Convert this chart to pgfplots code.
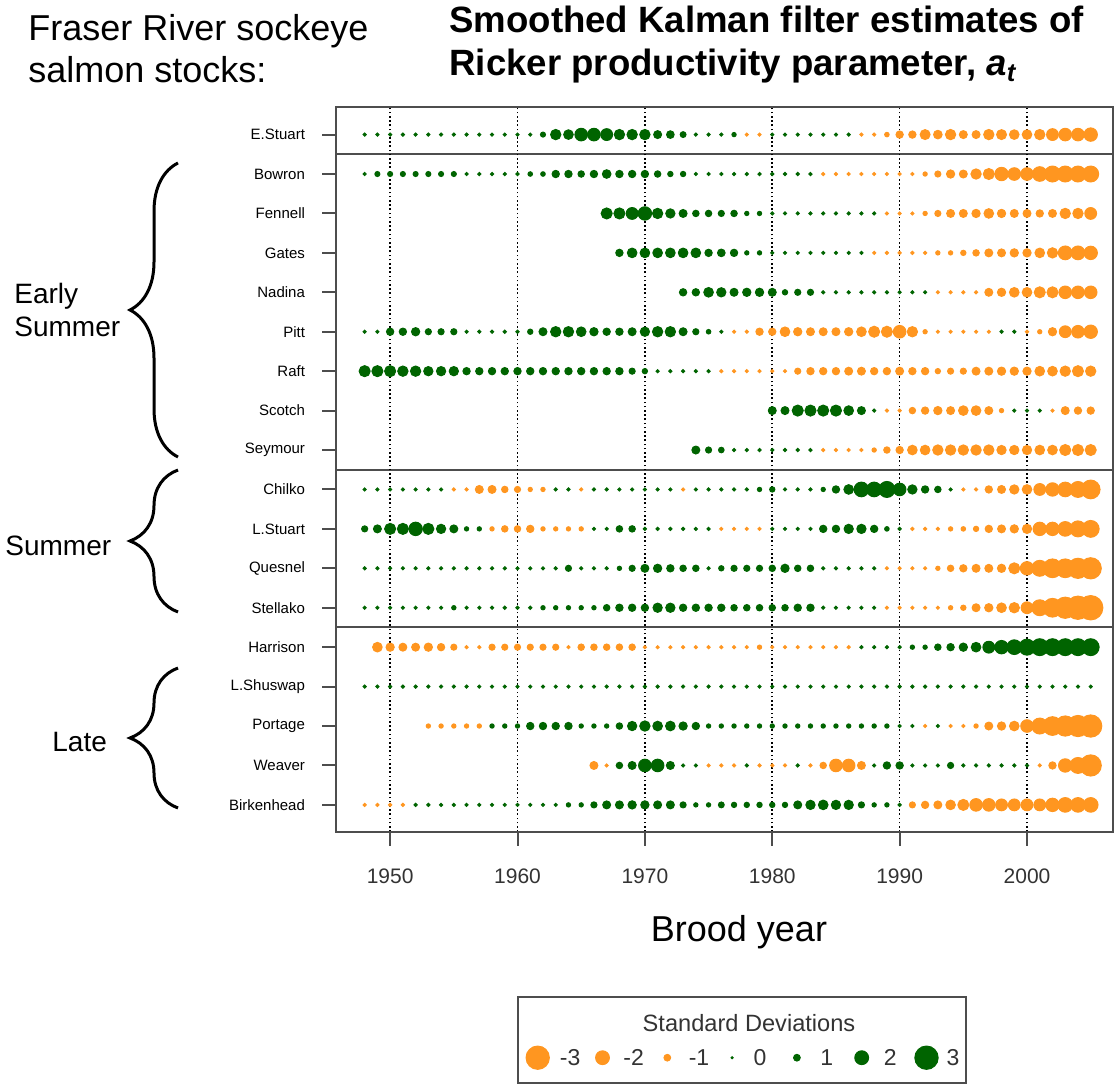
\documentclass[border=0pt]{standalone}
\usepackage{pgfplots}
\pgfplotsset{compat=1.18}
\usepackage{pgfplotstable}
\usepackage{fontspec}
\setmainfont{Liberation Sans}
\usetikzlibrary{decorations.pathreplacing}

\definecolor{sdorange}{HTML}{FF9620}
\definecolor{sdgreen}{HTML}{006400}
\definecolor{framegray}{HTML}{4D4D4D}
\definecolor{ticktext}{HTML}{333333}

% smoothed Kalman filter a_t, in standard deviations (nan = no estimate)
\pgfplotstableread{
year EStuart Bowron Fennell Gates Nadina Pitt Raft Scotch Seymour Chilko LStuart Quesnel Stellako Harrison LShuswap Portage Weaver Birkenhead
1948 0.3 0.3 nan nan nan 0.3 1.65 nan nan 0.3 0.9 0.3 0.3 nan 0.3 nan nan -0.3
1949 0.3 0.7 nan nan nan 0.3 1.65 nan nan 0.3 1.2 0.3 0.3 -1.45 0.3 nan nan -0.3
1950 0.3 0.7 nan nan nan 1.1 1.65 nan nan 0.3 1.65 0.3 0.3 -1.25 0.3 nan nan -0.3
1951 0.3 0.7 nan nan nan 1.1 1.55 nan nan 0.3 1.65 0.3 0.3 -1.2 0.3 nan nan -0.3
1952 0.3 0.7 nan nan nan 1.25 1.55 nan nan 0.3 1.95 0.3 0.3 -1.2 0.3 nan nan 0.3
1953 0.3 0.7 nan nan nan 0.9 1.4 nan nan 0.3 1.65 0.3 0.3 -1.25 0.3 -0.55 nan 0.3
1954 0.3 0.7 nan nan nan 0.9 1.4 nan nan 0.3 1.4 0.3 0.3 -1.1 0.3 -0.55 nan 0.3
1955 0.3 0.7 nan nan nan 0.9 1.4 nan nan -0.3 1.2 0.3 0.55 -0.9 0.3 -0.55 nan 0.3
1956 0.3 0.3 nan nan nan 0.3 1.1 nan nan -0.3 0.55 0.3 0.3 -0.3 0.3 -0.55 nan 0.3
1957 0.3 0.3 nan nan nan 0.3 1.1 nan nan -1.2 0.55 0.3 0.3 -0.3 0.3 -0.55 nan 0.3
1958 0.3 0.3 nan nan nan 0.3 1.1 nan nan -1.2 -0.55 0.3 0.3 -0.9 0.3 0.55 nan 0.3
1959 0.3 0.3 nan nan nan 0.3 1.1 nan nan -0.95 -0.95 0.3 0.3 -0.9 0.3 0.55 nan 0.3
1960 0.3 0.3 nan nan nan 0.3 1.1 nan nan -0.9 -0.95 0.3 0.3 -0.9 0.3 0.55 nan 0.3
1961 0.3 0.6 nan nan nan 0.75 1.1 nan nan -0.55 -1.1 0.3 0.3 -0.9 0.3 1.1 nan 0.3
1962 0.7 0.6 nan nan nan 1.2 1.1 nan nan -0.55 -0.55 0.3 0.55 -0.9 0.3 1.1 nan 0.3
1963 1.55 1.1 nan nan nan 1.55 1.1 nan nan 0.3 -0.55 0.3 0.55 -0.9 0.3 1.1 nan 0.3
1964 1.45 1.1 nan nan nan 1.55 1.1 nan nan 0.3 -0.55 0.9 0.55 -0.3 0.3 1.1 nan 0.55
1965 1.85 0.95 nan nan nan 1.45 1.1 nan nan -0.3 -0.55 0.3 0.55 -0.95 0.3 0.55 nan 0.55
1966 1.85 1.1 nan nan nan 1.25 1.1 nan nan 0.3 0.3 0.3 0.55 -0.95 0.3 0.55 -1.2 0.9
1967 1.75 1.3 1.65 nan nan 1.1 1.1 nan nan 0.3 0.3 0.3 0.95 -0.95 0.3 0.55 -0.3 1.2
1968 1.55 1.1 1.65 1.1 nan 1.1 1.1 nan nan 0.3 0.95 0.55 1.1 -0.95 0.3 0.95 0.95 1.2
1969 1.55 1.1 1.75 1.45 nan 1.2 0.9 nan nan 0.3 0.95 0.9 1.1 -0.95 0.3 1.4 1.2 1.25
1970 1.55 1.1 1.95 1.45 nan 1.4 0.75 nan nan 0.3 0.3 1.2 1.1 -0.3 0.3 1.55 1.85 1.25
1971 1.2 0.95 1.55 1.45 nan 1.55 0.3 nan nan 0.3 0.3 1.25 1.4 -0.3 0.3 1.45 1.85 1.2
1972 1.15 0.75 1.4 1.45 nan 1.55 0.3 nan nan 0.3 0.3 1.1 1.4 -0.3 0.3 1.45 1.2 1.2
1973 0.85 0.75 1.2 1.45 1.1 1.2 0.3 nan nan -0.3 0.3 0.95 1.1 -0.3 0.3 1.25 0.3 0.9
1974 0.3 0.3 0.95 1.45 1.1 0.9 0.3 nan 1.2 0.3 0.3 0.95 1.1 -0.3 0.3 1.1 0.3 0.55
1975 0.3 0.3 0.95 1.1 1.45 0.6 0.3 nan 0.9 0.3 0.3 0.3 1.1 -0.3 0.3 0.55 -0.3 0.55
1976 0.3 0.3 0.9 1.15 1.4 0.3 -0.3 nan 0.8 0.3 -0.3 0.75 1.1 -0.3 0.3 0.55 -0.3 0.85
1977 0.55 0.3 0.95 1.1 1.2 -0.3 -0.3 nan 0.3 0.3 -0.3 0.9 0.95 -0.3 0.3 0.55 -0.3 0.75
1978 -0.3 0.3 0.55 0.55 1.25 -0.3 -0.3 nan 0.3 0.3 -0.3 0.9 0.95 -0.3 0.3 0.55 0.3 0.75
1979 -0.3 0.3 0.55 0.55 1.25 -1.1 -0.3 nan 0.3 0.55 -0.3 0.9 0.95 -0.55 0.3 0.55 -0.3 0.75
1980 0.3 0.3 0.3 0.3 1.2 -1.1 -0.3 1.2 0.3 0.75 0.3 0.95 0.95 -0.3 0.3 0.55 -0.3 0.75
1981 0.3 0.3 0.3 0.3 0.75 -1.45 -0.3 1.2 0.3 0.3 0.3 1.25 0.95 -0.3 0.3 0.55 -0.3 0.75
1982 0.3 0.3 0.3 0.3 0.9 -1.25 -0.9 1.65 0.3 0.3 0.3 0.95 1.1 -0.3 0.3 0.55 0.3 1.2
1983 0.3 0.3 0.3 0.3 0.9 -1.2 -1.1 1.65 0.3 0.3 0.3 0.95 1.1 -0.3 0.3 0.55 -0.3 1.4
1984 0.3 -0.3 0.3 0.3 0.3 -1.2 -1.1 1.65 -0.3 0.55 1.1 0.3 0.3 -0.3 0.3 0.55 -0.95 1.45
1985 0.3 -0.3 0.3 0.3 0.3 -1.2 -1.1 1.65 -0.3 1.1 1.1 0.3 0.3 -0.3 0.3 0.55 -1.85 1.4
1986 0.3 -0.3 0.3 0.3 0.3 -1.25 -1.2 1.45 -0.3 1.45 1.4 0.3 0.3 -0.3 0.3 0.55 -1.85 1.4
1987 -0.3 -0.3 0.3 0.3 0.3 -1.45 -1.2 1.2 -0.3 2.1 1.4 0.3 0.3 0.3 0.3 0.55 -1.2 0.9
1988 -0.3 -0.3 0.3 -0.3 0.3 -1.65 -1.1 0.3 -0.55 2.1 1.1 0.3 0.3 0.3 0.3 0.55 0.3 0.55
1989 -0.6 -0.3 -0.3 -0.3 0.3 -1.65 -1.1 -0.3 -0.95 2.25 0.6 -0.3 -0.3 0.3 0.3 0.55 1.1 0.55
1990 -1.1 -0.3 -0.3 -0.3 0.3 -1.85 -1.2 -0.3 -1.1 1.85 0.3 -0.3 -0.3 0.3 0.3 0.3 1.1 0.3
1991 -1.1 -0.3 -0.3 -0.3 0.3 -1.55 -1.1 -0.95 -1.45 1.4 -0.3 -0.3 -0.3 0.55 0.3 0.3 0.3 -0.9
1992 -1.5 -0.55 -0.55 -0.3 0.3 -0.55 -1.1 -1.1 -1.45 1.1 -0.3 -0.3 -0.3 0.55 0.3 -0.3 0.3 -1.1
1993 -1.3 -0.9 -0.9 -0.55 -0.3 -0.3 -0.75 -1.25 -1.55 0.95 -0.3 -0.55 -0.3 0.95 0.3 0.3 0.3 -1.2
1994 -1.55 -1.25 -1.2 -0.55 -0.3 -0.3 -0.9 -1.2 -1.55 0.3 -0.55 -0.95 -0.55 1.1 0.3 -0.3 0.9 -1.45
1995 -1.2 -1.2 -1.2 -0.75 -0.3 -0.3 -0.9 -1.45 -1.55 -0.3 -0.6 -1.1 -0.75 1.25 0.3 -0.3 0.3 -1.65
1996 -1.2 -1.55 -1.25 -0.95 -0.3 -0.3 -1.2 -1.45 -1.55 -0.3 -0.75 -1.2 -1.2 1.45 0.3 -0.55 0.3 -1.85
1997 -1.55 -1.65 -1.45 -1.2 -1.2 -0.3 -1.2 -1.2 -1.55 -1.1 -1.1 -1.2 -1.25 1.75 0.3 -1.2 0.3 -1.85
1998 -1.5 -1.95 -1.25 -1.2 -1.25 0.3 -1.25 -0.55 -1.4 -1.2 -1.2 -1.25 -1.45 1.95 0.3 -1.25 0.3 -1.75
1999 -1.45 -1.85 -1.2 -1.25 -1.45 0.3 -1.25 0.3 -1.4 -1.4 -1.25 -1.65 -1.55 2.1 0.3 -1.45 0.3 -1.75
2000 -1.45 -1.85 -1.2 -1.25 -1.45 -0.3 -1.25 0.3 -1.4 -1.45 -1.4 -1.95 -1.75 2.25 0.3 -1.85 0.3 -1.75
2001 -1.55 -2.1 -1.1 -1.45 -1.65 -0.55 -1.45 0.3 -1.45 -1.75 -1.95 -2.25 -2.25 2.35 0.3 -2.25 -0.3 -1.75
2002 -1.75 -2.25 -1.2 -1.55 -1.65 -1.25 -1.45 -0.3 -1.45 -1.95 -1.95 -2.55 -2.55 2.35 0.3 -2.55 -1.1 -1.95
2003 -1.85 -2.25 -1.55 -2.0 -1.85 -1.75 -1.55 -1.2 -1.65 -2.1 -2.1 -2.55 -2.8 2.35 0.3 -2.7 -1.95 -2.1
2004 -1.85 -2.25 -1.55 -2.0 -1.85 -1.85 -1.65 -1.1 -1.65 -2.25 -2.25 -2.7 -3.0 2.35 0.3 -2.8 -2.25 -2.1
2005 -1.95 -2.25 -1.75 -1.95 -1.85 -1.95 -1.55 -1.1 -1.65 -2.55 -2.35 -2.8 -3.1 2.35 0.3 -2.9 -2.8 -2.1
}\sddata

\pgfplotstableread{
pos sd
0 -3
1 -2
2 -1
3 0
4 1
5 2
6 3
}\legenddata

% dot size grows with |sd|, orange below zero, green above
% (meta is mapped from [-3.5,3.5] to [0,1000], so it is turned back here)
\pgfplotsset{
  sddots/.style={
    scatter, only marks, mark=*,
    point meta={\thisrow{#1}},
    point meta min=-3.5, point meta max=3.5,
    scatter/@pre marker code/.code={%
      \pgfmathsetmacro\sdval{\pgfplotspointmetatransformed*0.007-3.5}%
      \pgfmathsetmacro\sdsize{0.5+0.875*abs(\sdval)+0.3*abs(\sdval)^2}%
      \ifdim\sdval pt<0pt \def\sdcol{sdorange}\else\def\sdcol{sdgreen}\fi
      \scope[mark size=\sdsize pt, fill=\sdcol, draw=\sdcol, line width=0.5pt]%
    },
    scatter/@post marker code/.code={\endscope},
  },
}

\begin{document}
\begin{tikzpicture}
\path[use as bounding box] (0,0) rectangle (559pt,543.5pt);

\begin{axis}[
  at={(168pt,127.65pt)}, anchor=south west,
  scale only axis, width=388.5pt, height=362.35pt,
  xmin=1945.75, xmax=2006.75, ymin=0.32, ymax=18.7,
  axis on top,
  axis line style={framegray, line width=1pt},
  tick align=outside, major tick length=7pt,
  tick style={framegray, line width=1pt},
  xtick pos=bottom, ytick pos=left,
  xtick={1950,1960,...,2000},
  ytick={1,...,18},
  yticklabels={Birkenhead,Weaver,Portage,L.Shuswap,Harrison,Stellako,Quesnel,L.Stuart,Chilko,Seymour,Scotch,Raft,Pitt,Nadina,Gates,Fennell,Bowron,E.Stuart},
  xmajorgrids,
  major grid style={black, line width=0.8pt, dash pattern=on 0.8pt off 1.3pt},
  /pgf/number format/1000 sep={},
  /pgf/number format/assume math mode=true,
  xticklabel style={font=\fontsize{10.5}{12}\selectfont, text=ticktext, yshift=-8pt},
  yticklabel style={font=\fontsize{7.5}{9}\selectfont, xshift=-5pt},
]
% the tiny abs() term turns a missing year (nan) into a discarded point
\addplot[sddots=EStuart] table[x=year, y expr={18+1e-9*abs(\thisrow{EStuart})}] {\sddata};
\addplot[sddots=Bowron] table[x=year, y expr={17+1e-9*abs(\thisrow{Bowron})}] {\sddata};
\addplot[sddots=Fennell] table[x=year, y expr={16+1e-9*abs(\thisrow{Fennell})}] {\sddata};
\addplot[sddots=Gates] table[x=year, y expr={15+1e-9*abs(\thisrow{Gates})}] {\sddata};
\addplot[sddots=Nadina] table[x=year, y expr={14+1e-9*abs(\thisrow{Nadina})}] {\sddata};
\addplot[sddots=Pitt] table[x=year, y expr={13+1e-9*abs(\thisrow{Pitt})}] {\sddata};
\addplot[sddots=Raft] table[x=year, y expr={12+1e-9*abs(\thisrow{Raft})}] {\sddata};
\addplot[sddots=Scotch] table[x=year, y expr={11+1e-9*abs(\thisrow{Scotch})}] {\sddata};
\addplot[sddots=Seymour] table[x=year, y expr={10+1e-9*abs(\thisrow{Seymour})}] {\sddata};
\addplot[sddots=Chilko] table[x=year, y expr={9+1e-9*abs(\thisrow{Chilko})}] {\sddata};
\addplot[sddots=LStuart] table[x=year, y expr={8+1e-9*abs(\thisrow{LStuart})}] {\sddata};
\addplot[sddots=Quesnel] table[x=year, y expr={7+1e-9*abs(\thisrow{Quesnel})}] {\sddata};
\addplot[sddots=Stellako] table[x=year, y expr={6+1e-9*abs(\thisrow{Stellako})}] {\sddata};
\addplot[sddots=Harrison] table[x=year, y expr={5+1e-9*abs(\thisrow{Harrison})}] {\sddata};
\addplot[sddots=LShuswap] table[x=year, y expr={4+1e-9*abs(\thisrow{LShuswap})}] {\sddata};
\addplot[sddots=Portage] table[x=year, y expr={3+1e-9*abs(\thisrow{Portage})}] {\sddata};
\addplot[sddots=Weaver] table[x=year, y expr={2+1e-9*abs(\thisrow{Weaver})}] {\sddata};
\addplot[sddots=Birkenhead] table[x=year, y expr={1+1e-9*abs(\thisrow{Birkenhead})}] {\sddata};

% run-timing group separators
\draw[framegray, line width=1pt] (axis cs:1945.75,17.5) -- (axis cs:2006.75,17.5);
\draw[framegray, line width=1pt] (axis cs:1945.75,9.5) -- (axis cs:2006.75,9.5);
\draw[framegray, line width=1pt] (axis cs:1945.75,5.5) -- (axis cs:2006.75,5.5);
\end{axis}

% legend
\begin{axis}[
  at={(268.85pt,14.65pt)}, anchor=west,
  scale only axis, width=194.4pt, height=10pt,
  xmin=0, xmax=6, ymin=-1, ymax=1,
  hide axis, clip=false,
]
\addplot[sddots=sd] table[x=pos, y expr=0] {\legenddata};
\node[text=ticktext, font=\fontsize{11.5}{13}\selectfont] at (axis cs:0.5,0) {-3};
\node[text=ticktext, font=\fontsize{11.5}{13}\selectfont] at (axis cs:1.48,0) {-2};
\node[text=ticktext, font=\fontsize{11.5}{13}\selectfont] at (axis cs:2.49,0) {-1};
\node[text=ticktext, font=\fontsize{11.5}{13}\selectfont] at (axis cs:3.43,0) {0};
\node[text=ticktext, font=\fontsize{11.5}{13}\selectfont] at (axis cs:4.46,0) {1};
\node[text=ticktext, font=\fontsize{11.5}{13}\selectfont] at (axis cs:5.44,0) {2};
\node[text=ticktext, font=\fontsize{11.5}{13}\selectfont] at (axis cs:6.41,0) {3};
\end{axis}

% annotations in image pixel units (origin top left)
\begin{scope}[x=0.5pt, y=-0.5pt, shift={(0pt,543.5pt)}]
\node[anchor=west, align=left, inner sep=0pt, font=\fontsize{18}{21}\selectfont] at (28,49) {Fraser River sockeye\\salmon stocks:};
\node[anchor=west, align=left, inner sep=0pt, font=\bfseries\fontsize{18.3}{21.5}\selectfont] at (449,45)
  {Smoothed Kalman filter estimates of\\Ricker productivity parameter, \textit{a}\textsubscript{\textit{t}}};
\node[font=\fontsize{18}{21}\selectfont] at (739,932) {Brood year};

\node[anchor=west, align=left, inner sep=0pt, font=\fontsize{14}{17}\selectfont] at (14,310) {Early\\Summer};
\node[anchor=west, inner sep=0pt, font=\fontsize{14}{17}\selectfont] at (5,546) {Summer};
\node[anchor=west, inner sep=0pt, font=\fontsize{14}{17}\selectfont] at (52,742) {Late};
\draw[decorate, decoration={brace, amplitude=24pt}, line width=1.5pt] (178,457) -- (178,163);
\draw[decorate, decoration={brace, amplitude=24pt}, line width=1.5pt] (178,612) -- (178,470);
\draw[decorate, decoration={brace, amplitude=24pt}, line width=1.5pt] (178,808) -- (178,668);

\draw[framegray, line width=0.8pt] (518,997) rectangle (966,1083);
\node[text=ticktext, font=\fontsize{11.8}{14}\selectfont] at (749,1023) {Standard Deviations};
\end{scope}
\end{tikzpicture}
\end{document}
